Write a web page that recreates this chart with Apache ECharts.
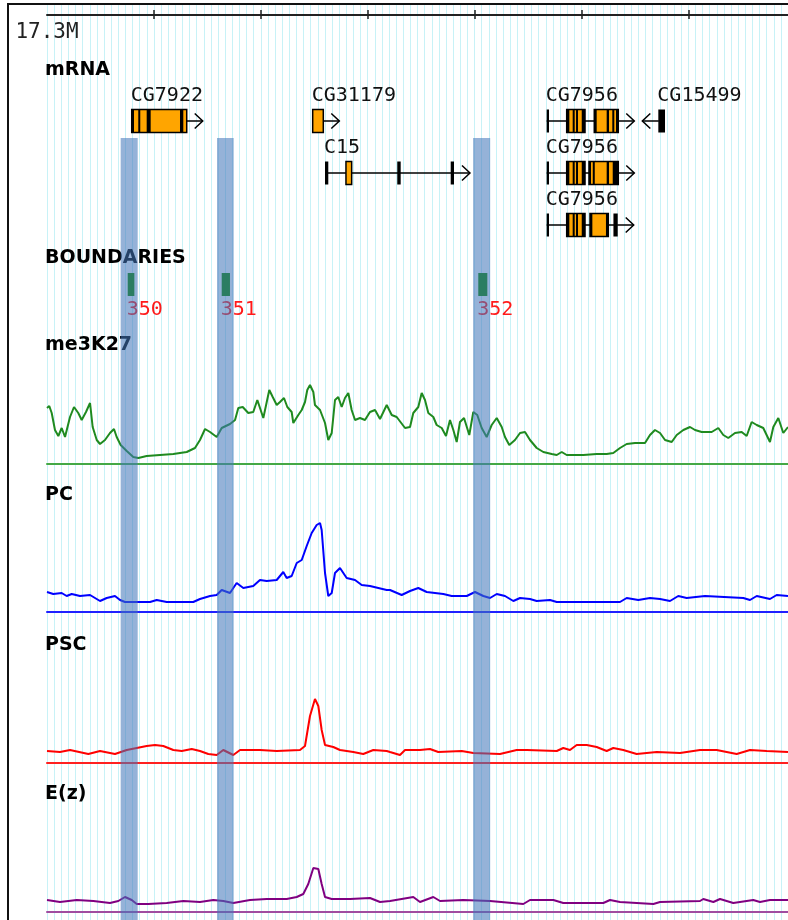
<!doctype html>
<html>
<head>
<meta charset="utf-8">
<style>html,body{margin:0;padding:0;background:#fff}#main{width:788px;height:920px}</style>
</head>
<body>
<div id="main"></div>
<script src="https://cdn.jsdelivr.net/npm/echarts@6/dist/echarts.min.js"></script>
<script>
// x positions: steps from 17.3M, one step = one faint grid line, ruler tick every 15 steps
var viewMax = 104;
var rulerTicks = [15, 30, 45, 60, 75, 90];
var rulerStart = '17.3M';

var geneNames = ['CG7922', 'CG31179', 'C15', 'CG7956', 'CG7956', 'CG7956', 'CG15499'];
var geneRows = [0, 0, 1, 0, 1, 2, 0];
var geneStrands = ['+', '+', '+', '+', '+', '+', '-'];
// [start, end, black?]
var geneExons = [
    [[11.89, 19.61, 0], [11.89, 12.21, 1], [12.81, 13.09, 1], [13.99, 14.55, 1], [18.67, 19.13, 1]],
    [[37.29, 38.78, 0]],
    [[39.02, 39.48, 1], [41.96, 42.76, 0], [49.16, 49.64, 1], [56.66, 57.12, 1]],
    [[70.13, 70.46, 1], [72.94, 75.51, 0], [72.94, 73.31, 1], [73.78, 74.01, 1], [74.25, 74.48, 1], [75.05, 75.51, 1],
     [76.81, 80.18, 0], [76.81, 77.15, 1], [78.55, 78.88, 1], [79.34, 79.58, 1], [79.86, 80.18, 1]],
    [[70.13, 70.46, 1], [72.94, 75.51, 0], [72.94, 73.31, 1], [73.78, 74.01, 1], [74.25, 74.48, 1], [75.05, 75.51, 1],
     [76.07, 80.18, 0], [76.07, 76.35, 1], [76.6, 76.85, 1], [78.55, 78.88, 1], [79.4, 80.18, 1]],
    [[70.13, 70.46, 1], [72.94, 75.51, 0], [72.94, 73.31, 1], [73.78, 74.01, 1], [74.25, 74.48, 1], [75.05, 75.51, 1],
     [76.21, 78.78, 0], [76.21, 76.54, 1], [78.45, 78.78, 1], [79.5, 80.1, 1]],
    [[85.8, 86.74, 1]]
];

var boundaryNames = ['350', '351', '352'];
var boundarySpans = [[11.33, 12.26], [24.52, 25.68], [60.53, 61.8]];
var highlightSpans = [[10.34, 12.73], [23.86, 26.2], [59.8, 62.2]];

var trackNames = ['mRNA', 'BOUNDARIES', 'me3K27', 'PC', 'PSC', 'E(z)'];

var me3K27 = [
    [0, 56], [0.32, 58], [0.66, 51], [1.12, 34], [1.59, 28], [2.06, 36], [2.53, 27], [3.23, 47], [3.79, 57],
    [4.39, 51], [4.87, 44], [5.47, 52], [6.04, 61], [6.41, 37], [6.98, 24], [7.44, 20], [8.14, 24], [8.84, 31],
    [9.4, 35], [9.78, 27], [10.34, 19], [11.19, 13], [12.11, 7], [12.81, 6], [13.99, 8], [15.86, 9], [17.73, 10],
    [19.61, 12], [20.77, 16], [21.47, 24], [22.18, 35], [22.88, 32], [23.82, 27], [24.52, 36], [25.68, 40],
    [26.39, 44], [26.85, 56], [27.47, 57], [28.25, 51], [28.95, 52], [29.52, 64], [30.36, 46], [31.2, 74],
    [31.68, 67], [32.24, 59], [32.7, 62], [33.26, 66], [33.73, 57], [34.34, 52], [34.57, 41], [35.27, 49],
    [35.75, 54], [36.21, 62], [36.53, 74], [36.91, 79], [37.38, 72], [37.61, 59], [38.32, 54], [39.02, 41],
    [39.48, 24], [39.96, 31], [40.42, 64], [40.88, 67], [41.36, 57], [41.82, 66], [42.29, 71], [42.76, 54],
    [43.23, 44], [43.93, 46], [44.63, 44], [45.33, 52], [46.04, 54], [46.74, 45], [47.68, 59], [48.38, 49],
    [49.08, 47], [50.25, 36], [50.95, 37], [51.41, 51], [52.11, 57], [52.59, 71], [53.05, 64], [53.52, 51],
    [54.22, 47], [54.69, 39], [55.4, 36], [56.0, 28], [56.56, 44], [57.03, 34], [57.5, 22], [57.96, 42],
    [58.53, 46], [59.27, 29], [59.83, 52], [60.39, 49], [61.01, 36], [61.71, 27], [62.41, 39], [63.12, 46],
    [63.82, 37], [64.28, 27], [64.88, 19], [65.68, 24], [66.39, 31], [67.09, 32], [67.79, 24], [68.73, 16],
    [69.66, 12], [70.84, 10], [71.54, 9], [72.24, 12], [72.94, 9], [75.27, 9], [77.15, 10], [78.55, 10],
    [79.48, 11], [80.42, 16], [81.36, 20], [82.53, 21], [83.93, 21], [84.63, 29], [85.33, 34], [86.04, 31],
    [86.74, 24], [87.68, 22], [88.38, 29], [89.31, 34], [90.25, 37], [90.95, 34], [91.89, 32], [93.29, 32],
    [94.22, 36], [94.92, 29], [95.62, 26], [96.56, 31], [97.5, 32], [98.2, 28], [98.9, 42], [99.61, 39],
    [100.53, 36], [101.47, 22], [101.94, 37], [102.64, 46], [103.34, 31], [104, 37]
];
var pc = [
    [0, 20], [0.88, 18], [2.06, 19], [2.76, 16], [3.47, 18], [4.63, 16], [6.04, 17], [6.74, 14], [7.44, 11],
    [8.38, 14], [9.54, 16], [10.25, 12], [10.95, 10], [14.46, 10], [15.4, 12], [16.8, 10], [20.53, 10],
    [21.47, 13], [22.88, 16], [23.82, 17], [24.52, 22], [25.68, 19], [26.62, 29], [27.55, 24], [28.95, 26],
    [29.89, 32], [30.84, 31], [32.24, 32], [33.16, 40], [33.64, 34], [34.34, 36], [35.05, 49], [35.75, 52],
    [36.45, 66], [37.15, 79], [37.85, 87], [38.32, 89], [38.55, 82], [39.02, 39], [39.48, 16], [39.96, 19],
    [40.42, 39], [41.12, 44], [42.06, 34], [43.23, 32], [44.17, 27], [45.33, 26], [46.5, 24], [47.68, 22],
    [48.14, 22], [49.78, 17], [50.95, 21], [52.11, 24], [53.29, 20], [55.62, 18], [56.8, 16], [58.91, 16],
    [60.07, 20], [61.24, 16], [62.18, 14], [63.12, 18], [64.28, 16], [65.45, 11], [66.39, 14], [67.79, 13],
    [68.73, 11], [70.6, 12], [71.54, 10], [75.05, 10], [75.27, 8], [76.21, 10], [80.42, 10], [81.36, 14],
    [82.99, 12], [84.63, 14], [86.04, 13], [87.44, 11], [88.6, 16], [89.78, 14], [92.35, 16], [97.73, 14],
    [98.67, 12], [99.61, 16], [101.47, 13], [102.41, 17], [104, 16]
];
var psc = [
    [0, 12], [1.82, 11], [3.23, 13], [5.8, 9], [7.44, 12], [9.54, 9], [11.19, 13], [12.59, 15], [13.99, 17],
    [15.16, 18], [16.32, 17], [17.73, 13], [18.91, 12], [20.31, 14], [21.47, 12], [22.64, 9], [23.82, 8],
    [24.74, 13], [26.15, 8], [27.09, 13], [29.89, 13], [32.24, 12], [35.51, 13], [36.21, 17], [36.91, 47],
    [37.61, 64], [38.08, 57], [38.55, 33], [39.02, 18], [40.18, 16], [41.12, 13], [42.99, 11], [44.39, 9],
    [45.8, 13], [47.68, 12], [48.14, 11], [49.54, 8], [50.25, 13], [52.35, 13], [53.75, 14], [54.92, 11],
    [58.2, 12], [59.83, 10], [63.58, 9], [65.92, 13], [67.33, 13], [71.54, 12], [72.46, 15], [73.4, 13],
    [74.34, 18], [75.75, 18], [77.15, 16], [78.55, 12], [79.48, 15], [80.88, 13], [82.76, 9], [85.57, 11],
    [88.84, 10], [91.65, 13], [93.99, 13], [96.8, 9], [98.67, 13], [101.01, 12], [104, 11]
];
var ez = [
    [0, 12], [1.82, 10], [4.17, 12], [6.5, 11], [8.84, 9], [10.01, 11], [10.95, 15], [11.89, 12], [12.59, 8],
    [14.22, 8], [16.8, 9], [19.13, 11], [21.47, 10], [23.34, 12], [24.74, 11], [26.15, 9], [28.49, 12],
    [30.84, 13], [33.64, 13], [35.05, 15], [35.97, 18], [36.67, 28], [37.38, 44], [38.08, 43], [38.55, 28],
    [39.02, 15], [39.96, 13], [42.53, 13], [45.33, 14], [46.74, 10], [48.14, 11], [51.41, 15], [52.35, 10],
    [54.22, 15], [55.16, 11], [58.43, 12], [62.18, 11], [66.85, 8], [67.79, 12], [71.07, 12], [72.46, 9],
    [78.08, 9], [79.02, 12], [80.42, 10], [85.1, 8], [86.04, 10], [91.65, 11], [92.11, 13], [93.52, 10],
    [94.46, 13], [96.32, 9], [99.12, 12], [100.07, 10], [101.47, 12], [104, 12]
];

var mono = '"DejaVu Sans Mono", monospace';
var chart = echarts.init(document.getElementById('main'));

// grids: 0 background lines, 1 ruler, 2 genes, 3 boundaries, 4-7 signal tracks, 8 highlight bands
var signals = [
    {data: me3K27, line: '#1f8a1f', base: '#45a845', top: 364},
    {data: pc, line: '#0000ff', base: '#2020ff', top: 512},
    {data: psc, line: '#ff0000', base: '#ff2020', top: 663},
    {data: ez, line: '#800080', base: '#a04ca0', top: 812}
];
var grids = [
    {left: 47, right: 0, top: 5, bottom: 0},
    {left: 47, right: 0, top: 14, height: 1},
    {left: 47, right: 0, top: 95, height: 156},
    {left: 47, right: 0, top: 273, height: 23}
];
signals.forEach(function (s) {
    grids.push({left: 47, right: 0, top: s.top, height: 100});
});
grids.push({left: 47, right: 0, top: 138, bottom: 0});

var xAxes = grids.map(function (g, i) {
    return {gridIndex: i, type: 'value', min: 0, max: viewMax, show: false};
});
xAxes[0] = {
    gridIndex: 0, type: 'value', min: 0, max: viewMax, interval: 1,
    axisLine: {show: false}, axisTick: {show: false}, axisLabel: {show: false},
    splitLine: {show: true, lineStyle: {color: '#c8f2f7', width: 1}}
};
xAxes[1] = {
    gridIndex: 1, type: 'value', min: 0, max: viewMax, position: 'top',
    axisLine: {lineStyle: {color: '#222', width: 2}},
    axisTick: {customValues: rulerTicks, length: 5, lineStyle: {color: '#222', width: 1.5}},
    axisLabel: {show: false}, splitLine: {show: false}
};
xAxes.push({
    gridIndex: 1, type: 'value', min: 0, max: viewMax, position: 'bottom',
    axisLine: {show: false},
    axisTick: {customValues: rulerTicks, length: 4, lineStyle: {color: '#222', width: 1.5}},
    axisLabel: {
        customValues: [0], margin: 7, color: '#222', fontFamily: mono, fontSize: 21,
        formatter: function () { return rulerStart; }
    },
    splitLine: {show: false}
});
signals.forEach(function (s, k) {
    xAxes[4 + k] = {
        gridIndex: 4 + k, type: 'value', min: 0, max: viewMax,
        axisLine: {onZero: false, lineStyle: {color: s.base, width: 2}},
        axisTick: {show: false}, axisLabel: {show: false}, splitLine: {show: false}
    };
});

var yAxes = grids.map(function (g, i) {
    return {gridIndex: i, type: 'value', min: 0, max: 1, show: false};
});
yAxes[2] = {gridIndex: 2, type: 'value', min: 0, max: 3, inverse: true, show: false};
signals.forEach(function (s, k) {
    yAxes[4 + k] = {gridIndex: 4 + k, type: 'value', min: 0, max: 100, show: false};
});

function renderGene(params, api) {
    var i = params.dataIndex;
    var s = api.coord([api.value(0), api.value(2)]);
    var e = api.coord([api.value(1), api.value(2)]);
    var y = s[1], h = 23;
    var kids = [{type: 'line', shape: {x1: s[0], y1: y, x2: e[0], y2: y}, style: {stroke: '#000', lineWidth: 1.5}}];
    var dir = geneStrands[i] === '+' ? 1 : -1;
    var ax = dir > 0 ? e[0] : s[0];
    var tip = ax + dir * 16;
    kids.push({type: 'line', shape: {x1: ax, y1: y, x2: tip, y2: y}, style: {stroke: '#000', lineWidth: 1.5}});
    kids.push({
        type: 'polyline',
        shape: {points: [[tip - dir * 8, y - 7.5], [tip, y], [tip - dir * 8, y + 7.5]]},
        style: {stroke: '#000', fill: null, lineWidth: 1.5}
    });
    geneExons[i].forEach(function (ex) {
        var a = api.coord([ex[0], 0])[0], b = api.coord([ex[1], 0])[0];
        if (ex[2]) {
            kids.push({type: 'rect', shape: {x: a, y: y - h / 2, width: Math.max(b - a, 2), height: h}, style: {fill: '#000'}});
        } else {
            kids.push({type: 'rect', shape: {x: a, y: y - h / 2, width: b - a, height: h},
                style: {fill: '#ffa500', stroke: '#000', lineWidth: 1.5}});
        }
    });
    kids.push({type: 'text', x: s[0] - 1, y: y - 25,
        style: {text: geneNames[i], fill: '#111', font: '20px ' + mono, verticalAlign: 'middle', align: 'left'}});
    return {type: 'group', children: kids};
}

function renderBoundaryMark(params, api) {
    var p0 = api.coord([api.value(0), 1]);
    var p1 = api.coord([api.value(1), 0]);
    return {type: 'rect', shape: {x: p0[0], y: p0[1], width: p1[0] - p0[0], height: p1[1] - p0[1]},
        style: {fill: '#2b7d62'}};
}

function renderBoundaryLabel(params, api) {
    var p0 = api.coord([api.value(0), 0]);
    return {type: 'text', x: p0[0] - 1, y: p0[1] + 14,
        style: {text: boundaryNames[params.dataIndex], fill: '#ff1a1a', font: '20px ' + mono, verticalAlign: 'middle'}};
}

function renderBand(params, api) {
    var p0 = api.coord([api.value(0), 1]);
    var p1 = api.coord([api.value(1), 0]);
    return {type: 'rect', shape: {x: p0[0], y: p0[1], width: p1[0] - p0[0], height: p1[1] - p0[1]},
        style: {fill: 'rgba(66,118,186,0.56)'}};
}

var labelTops = [61, 249, 336, 486, 636, 785];
var titles = trackNames.map(function (t, i) {
    return {
        text: t, left: 45, top: labelTops[i], padding: 0,
        textStyle: {fontFamily: '"DejaVu Sans", sans-serif', fontWeight: 'bold', fontSize: 19, color: '#000'}
    };
});

var series = [
    {
        type: 'custom', xAxisIndex: 2, yAxisIndex: 2, renderItem: renderGene, silent: true,
        encode: {x: [0, 1], y: 2},
        data: geneExons.map(function (ex, i) {
            var lo = Math.min.apply(null, ex.map(function (e) { return e[0]; }));
            var hi = Math.max.apply(null, ex.map(function (e) { return e[1]; }));
            return [lo, hi, geneRows[i] + 0.5];
        })
    },
    {
        type: 'custom', xAxisIndex: 3, yAxisIndex: 3, renderItem: renderBoundaryLabel, silent: true,
        encode: {x: [0, 1]}, data: boundarySpans
    }
];
signals.forEach(function (s, k) {
    series.push({
        type: 'line', xAxisIndex: 4 + k, yAxisIndex: 4 + k, data: s.data,
        showSymbol: false, silent: true, animation: false,
        lineStyle: {color: s.line, width: 2}
    });
});
series.push({
    type: 'custom', xAxisIndex: 8, yAxisIndex: 8, renderItem: renderBand, silent: true, z: 20,
    encode: {x: [0, 1]}, data: highlightSpans
});
series.push({
    type: 'custom', xAxisIndex: 3, yAxisIndex: 3, renderItem: renderBoundaryMark, silent: true, z: 25,
    encode: {x: [0, 1]}, data: boundarySpans
});

chart.setOption({
    animation: false,
    backgroundColor: '#fff',
    title: titles,
    grid: grids,
    xAxis: xAxes,
    yAxis: yAxes,
    graphic: [{
        type: 'rect', z: 30, silent: true,
        shape: {x: 8, y: 4, width: 800, height: 940},
        style: {fill: null, stroke: '#111', lineWidth: 2}
    }],
    series: series
});

window.onresize = chart.resize;
</script>
</body>
</html>
